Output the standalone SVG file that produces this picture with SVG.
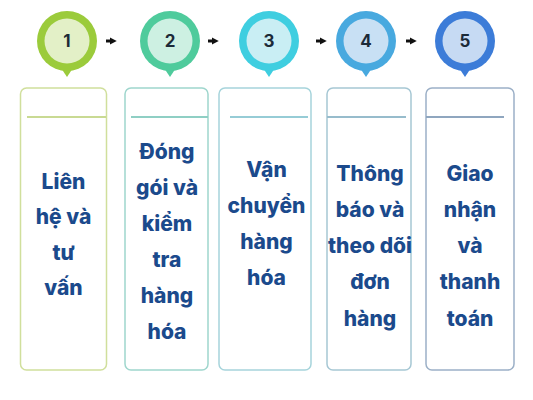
<svg xmlns="http://www.w3.org/2000/svg" width="533" height="400" viewBox="0 0 533 400">
<style>
.box{fill:#fff;stroke-width:1.5}
.div{stroke-width:1.8}
.num{font-family:Inter,"Liberation Sans",sans-serif;font-weight:700;font-size:17px;fill:#1c2a38;text-anchor:middle}
.lbl{font-family:Inter,"Liberation Sans",sans-serif;font-weight:800;font-size:21px;fill:#1b4a8c;text-anchor:middle}
.conn{stroke:#111;stroke-width:3;fill:none}
</style>
<defs>
<marker id="ah" viewBox="0 0 10 10" refX="2" refY="5" markerWidth="2.4" markerHeight="2.4" orient="auto" markerUnits="strokeWidth">
<path d="M0,0 L10,5 L0,10 Z" fill="#111"/>
</marker>
</defs>
<rect width="533" height="400" fill="#fff"/>
<g id="connectors">
<line class="conn" x1="106" y1="41" x2="111" y2="41" marker-end="url(#ah)"/>
<line class="conn" x1="208" y1="41" x2="213" y2="41" marker-end="url(#ah)"/>
<line class="conn" x1="316" y1="41" x2="321" y2="41" marker-end="url(#ah)"/>
<line class="conn" x1="406" y1="41" x2="411" y2="41" marker-end="url(#ah)"/>
</g>
<g id="step1">
<path d="M61,68 L67,77 L73,68 Z" fill="#9bcb3b"/>
<circle cx="67" cy="41" r="30" fill="#9bcb3b"/>
<circle cx="67" cy="41" r="22.5" fill="#e3f0c7"/>
<text class="num" x="67" y="47">1</text>
<rect class="box" x="20.5" y="88" width="86" height="282" rx="6" stroke="#d0df9c"/>
<line class="div" x1="27" y1="117" x2="106" y2="117" stroke="#c9da93"/>
<text class="lbl" x="63.5" y="189">Liên</text>
<text class="lbl" x="63.5" y="224">hệ và</text>
<text class="lbl" x="63.5" y="260">tư</text>
<text class="lbl" x="63.5" y="295">vấn</text>
</g>
<g id="step2">
<path d="M164,68 L170,77 L176,68 Z" fill="#4fcb9c"/>
<circle cx="170" cy="41" r="30" fill="#4fcb9c"/>
<circle cx="170" cy="41" r="22.5" fill="#cdf0e2"/>
<text class="num" x="170" y="47">2</text>
<rect class="box" x="125" y="88" width="83" height="282" rx="6" stroke="#9fd6cd"/>
<line class="div" x1="131" y1="117" x2="208" y2="117" stroke="#8fcfc4"/>
<text class="lbl" x="167" y="159">Đóng</text>
<text class="lbl" x="167" y="195">gói và</text>
<text class="lbl" x="167" y="231">kiểm</text>
<text class="lbl" x="167" y="267">tra</text>
<text class="lbl" x="167" y="303">hàng</text>
<text class="lbl" x="167" y="339">hóa</text>
</g>
<g id="step3">
<path d="M263,68 L269,77 L275,68 Z" fill="#3fcee0"/>
<circle cx="269" cy="41" r="30" fill="#3fcee0"/>
<circle cx="269" cy="41" r="22.5" fill="#c9eef4"/>
<text class="num" x="269" y="47">3</text>
<rect class="box" x="219" y="88" width="92" height="282" rx="6" stroke="#a6d4db"/>
<line class="div" x1="230" y1="117" x2="308" y2="117" stroke="#96ccd6"/>
<text class="lbl" x="266.5" y="177">Vận</text>
<text class="lbl" x="266.5" y="213">chuyển</text>
<text class="lbl" x="266.5" y="249">hàng</text>
<text class="lbl" x="266.5" y="285">hóa</text>
</g>
<g id="step4">
<path d="M360,68 L366,77 L372,68 Z" fill="#48a9df"/>
<circle cx="366" cy="41" r="30" fill="#48a9df"/>
<circle cx="366" cy="41" r="22.5" fill="#c8e0f4"/>
<text class="num" x="366" y="47">4</text>
<rect class="box" x="327" y="88" width="84" height="282" rx="6" stroke="#a6c7d4"/>
<line class="div" x1="327" y1="117" x2="406" y2="117" stroke="#97bccc"/>
<text class="lbl" x="370" y="181">Thông</text>
<text class="lbl" x="370" y="217">báo và</text>
<text class="lbl" x="370" y="253">theo dõi</text>
<text class="lbl" x="370" y="289">đơn</text>
<text class="lbl" x="370" y="326">hàng</text>
</g>
<g id="step5">
<path d="M459,68 L465,77 L471,68 Z" fill="#3c7cd8"/>
<circle cx="465" cy="41" r="30" fill="#3c7cd8"/>
<circle cx="465" cy="41" r="22.5" fill="#c6daf3"/>
<text class="num" x="465" y="47">5</text>
<rect class="box" x="426" y="88" width="88" height="282" rx="6" stroke="#9cb0c7"/>
<line class="div" x1="426" y1="117" x2="504" y2="117" stroke="#8fa6bf"/>
<text class="lbl" x="470" y="181">Giao</text>
<text class="lbl" x="470" y="217">nhận</text>
<text class="lbl" x="470" y="253">và</text>
<text class="lbl" x="470" y="289">thanh</text>
<text class="lbl" x="470" y="326">toán</text>
</g>
</svg>
